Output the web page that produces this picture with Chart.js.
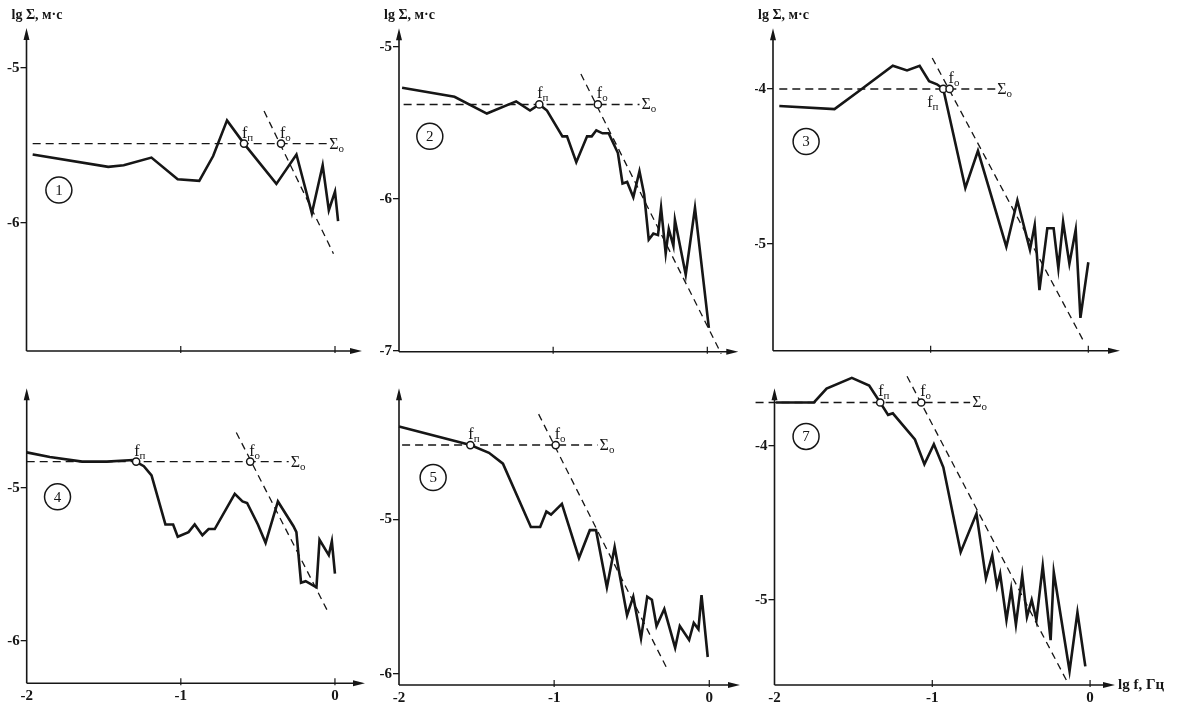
<!DOCTYPE html>
<html>
<head>
<meta charset="utf-8">
<script src="https://cdn.jsdelivr.net/npm/chart.js@4.4.1/dist/chart.umd.min.js"></script>
<style>
    body { margin: 0; background: #fff; width: 1178px; height: 704px; position: relative; overflow: hidden; }
    canvas { position: absolute; }
</style>
</head>
<body>
<canvas id="p1"></canvas>
<canvas id="p2"></canvas>
<canvas id="p3"></canvas>
<canvas id="p4"></canvas>
<canvas id="p5"></canvas>
<canvas id="p7"></canvas>
<script>
// lg f, Hz ticks (shared by all panels)
const xTicks = [-2, -1, 0];

// Panel 1
const p1Freq = [-1.96, -1.47, -1.37, -1.19, -1.02, -0.88, -0.79, -0.70, -0.59, -0.38, -0.25, -0.15, -0.08, -0.04, 0.00, 0.02];
const p1Amp = [-5.56, -5.64, -5.63, -5.58, -5.72, -5.73, -5.57, -5.34, -5.49, -5.75, -5.56, -5.94, -5.63, -5.92, -5.80, -5.99];
const p1YTicks = [-5, -6];
const p1Level = [-5.49, -1.96, -0.05];      // Σо, dashed from / to
const p1Knees = [-0.59, -0.35];             // fп, fо
const p1SlopeFreq = [-0.46, -0.01];
const p1SlopeAmp = [-5.28, -6.20];

// Panel 2
const p2Freq = [-1.98, -1.64, -1.43, -1.24, -1.15, -1.09, -1.04, -0.94, -0.91, -0.85, -0.78, -0.75, -0.72, -0.68, -0.64, -0.58, -0.55, -0.52, -0.48, -0.44, -0.41, -0.38, -0.35, -0.32, -0.30, -0.27, -0.25, -0.22, -0.21, -0.14, -0.08, 0.01];
const p2Amp = [-5.27, -5.33, -5.44, -5.36, -5.42, -5.38, -5.42, -5.59, -5.59, -5.76, -5.59, -5.59, -5.55, -5.57, -5.57, -5.70, -5.90, -5.89, -5.99, -5.82, -5.97, -6.27, -6.23, -6.24, -6.06, -6.36, -6.20, -6.31, -6.14, -6.50, -6.06, -6.85];
const p2YTicks = [-5, -6, -7];
const p2Level = [-5.38, -1.97, -0.44];
const p2Knees = [-1.09, -0.71];
const p2SlopeFreq = [-0.82, 0.09];
const p2SlopeAmp = [-5.18, -7.02];

// Panel 3
const p3Freq = [-1.96, -1.61, -1.45, -1.24, -1.15, -1.07, -1.01, -0.96, -0.92, -0.78, -0.70, -0.52, -0.45, -0.37, -0.34, -0.31, -0.26, -0.22, -0.19, -0.16, -0.12, -0.08, -0.05, 0.00];
const p3Amp = [-4.11, -4.13, -4.01, -3.85, -3.88, -3.85, -3.95, -3.97, -4.00, -4.64, -4.40, -5.02, -4.72, -5.04, -4.88, -5.30, -4.90, -4.90, -5.16, -4.86, -5.13, -4.91, -5.48, -5.12];
const p3YTicks = [-4, -5];
const p3Level = [-4.00, -1.96, -0.59];
const p3Knees = [-0.92, -0.88];
const p3SlopeFreq = [-0.99, -0.03];
const p3SlopeAmp = [-3.80, -5.63];

// Panel 4
const p4Freq = [-2.00, -1.85, -1.64, -1.48, -1.31, -1.24, -1.19, -1.10, -1.05, -1.02, -0.95, -0.91, -0.86, -0.82, -0.78, -0.65, -0.60, -0.57, -0.50, -0.45, -0.37, -0.27, -0.25, -0.22, -0.19, -0.12, -0.10, -0.04, -0.02, 0.00];
const p4Amp = [-4.77, -4.80, -4.83, -4.83, -4.82, -4.86, -4.92, -5.24, -5.24, -5.32, -5.29, -5.24, -5.31, -5.27, -5.27, -5.04, -5.09, -5.10, -5.24, -5.36, -5.09, -5.25, -5.29, -5.62, -5.61, -5.65, -5.34, -5.44, -5.35, -5.56];
const p4YTicks = [-5, -6];
const p4Level = [-4.83, -2.00, -0.30];
const p4Knees = [-1.29, -0.55];
const p4SlopeFreq = [-0.64, -0.04];
const p4SlopeAmp = [-4.64, -5.82];

// Panel 5
const p5Freq = [-2.00, -1.54, -1.42, -1.33, -1.15, -1.09, -1.05, -1.02, -0.95, -0.84, -0.77, -0.73, -0.66, -0.61, -0.53, -0.49, -0.44, -0.40, -0.37, -0.34, -0.29, -0.22, -0.19, -0.13, -0.10, -0.07, -0.05, -0.01];
const p5Amp = [-4.40, -4.52, -4.57, -4.64, -5.05, -5.05, -4.95, -4.97, -4.90, -5.25, -5.07, -5.07, -5.44, -5.18, -5.62, -5.50, -5.77, -5.50, -5.52, -5.69, -5.58, -5.83, -5.69, -5.78, -5.67, -5.71, -5.49, -5.89];
const p5YTicks = [-5, -6];
const p5Level = [-4.52, -1.98, -0.72];
const p5Knees = [-1.54, -0.99];
const p5SlopeFreq = [-1.10, -0.27];
const p5SlopeAmp = [-4.32, -5.97];

// Panel 7
const p7Freq = [-1.99, -1.75, -1.67, -1.51, -1.40, -1.33, -1.28, -1.25, -1.11, -1.05, -0.99, -0.93, -0.82, -0.72, -0.66, -0.62, -0.59, -0.57, -0.53, -0.50, -0.47, -0.43, -0.40, -0.37, -0.34, -0.30, -0.25, -0.23, -0.13, -0.08, -0.03];
const p7Amp = [-3.72, -3.72, -3.63, -3.56, -3.61, -3.72, -3.80, -3.79, -3.96, -4.12, -3.99, -4.14, -4.69, -4.44, -4.86, -4.71, -4.91, -4.83, -5.13, -4.93, -5.16, -4.84, -5.11, -5.00, -5.13, -4.78, -5.26, -4.82, -5.46, -5.08, -5.43];
const p7YTicks = [-4, -5];
const p7Level = [-3.72, -2.12, -0.76];
const p7Knees = [-1.33, -1.07];
const p7SlopeFreq = [-1.16, -0.15];
const p7SlopeAmp = [-3.55, -5.52];

const ink = '#161616';
const serif = '"Liberation Serif", "DejaVu Serif", serif';

// canvas box [left, top, w, h] and plot area [left, top, right, bottom] in page px
const panels = {
    p1: { num: '1', freq: p1Freq, amp: p1Amp, yTicks: p1YTicks, level: p1Level, knees: p1Knees, sf: p1SlopeFreq, sa: p1SlopeAmp,
          box: [0, 0, 380, 364], area: [26.5, 28, 362, 351], xMax: 0.175, yMin: -6.828, yMax: -4.744,
          tag: [-1.79, -5.79], bottom: false, yTitle: true },
    p2: { num: '2', freq: p2Freq, amp: p2Amp, yTicks: p2YTicks, level: p2Level, knees: p2Knees, sf: p2SlopeFreq, sa: p2SlopeAmp,
          box: [380, 0, 375, 364], area: [399, 28.3, 738.3, 351.7], xMax: 0.201, yMin: -7.007, yMax: -4.879,
          tag: [-1.80, -5.59], bottom: false, yTitle: true },
    p3: { num: '3', freq: p3Freq, amp: p3Amp, yTicks: p3YTicks, level: p3Level, knees: p3Knees, sf: p3SlopeFreq, sa: p3SlopeAmp,
          box: [755, 0, 423, 364], area: [773, 28.3, 1120, 350.7], xMax: 0.201, yMin: -5.692, yMax: -3.608,
          tag: [-1.79, -4.34], bottom: false, yTitle: true, fnBelow: true },
    p4: { num: '4', freq: p4Freq, amp: p4Amp, yTicks: p4YTicks, level: p4Level, knees: p4Knees, sf: p4SlopeFreq, sa: p4SlopeAmp,
          box: [0, 360, 380, 344], area: [26.7, 388.3, 365, 683.3], xMax: 0.195, yMin: -6.276, yMax: -4.352,
          tag: [-1.80, -5.06], bottom: true },
    p5: { num: '5', freq: p5Freq, amp: p5Amp, yTicks: p5YTicks, level: p5Level, knees: p5Knees, sf: p5SlopeFreq, sa: p5SlopeAmp,
          box: [380, 360, 375, 344], area: [399, 388.3, 740, 685], xMax: 0.198, yMin: -6.071, yMax: -4.153,
          tag: [-1.78, -4.73], bottom: true },
    p7: { num: '7', freq: p7Freq, amp: p7Amp, yTicks: p7YTicks, level: p7Level, knees: p7Knees, sf: p7SlopeFreq, sa: p7SlopeAmp,
          box: [755, 360, 423, 344], area: [774.5, 388.3, 1115, 685], xMax: 0.158, yMin: -5.551, yMax: -3.628,
          tag: [-1.80, -3.94], bottom: true, xTitle: true }
};

function subText(ctx, main, sub, x, y) {
    ctx.textAlign = 'left';
    ctx.textBaseline = 'alphabetic';
    ctx.font = '16px ' + serif;
    ctx.fillText(main, x, y);
    const w = ctx.measureText(main).width;
    ctx.font = '11px ' + serif;
    ctx.fillText(sub, x + w, y + 3);
}

// axes with arrows, inner x ticks and the annotations
const sketch = {
    id: 'sketch',
    afterDatasetsDraw(chart) {
        const p = panels[chart.canvas.id];
        const { ctx, chartArea: a, scales: { x, y } } = chart;
        ctx.save();
        ctx.strokeStyle = ink;
        ctx.fillStyle = ink;
        ctx.lineWidth = 1.6;

        ctx.beginPath();
        ctx.moveTo(a.left, a.bottom);
        ctx.lineTo(a.left, a.top + 8);
        ctx.moveTo(a.left, a.bottom);
        ctx.lineTo(a.right - 8, a.bottom);
        ctx.stroke();
        ctx.beginPath();
        ctx.moveTo(a.left, a.top);
        ctx.lineTo(a.left - 3, a.top + 12);
        ctx.lineTo(a.left + 3, a.top + 12);
        ctx.closePath();
        ctx.moveTo(a.right, a.bottom);
        ctx.lineTo(a.right - 12, a.bottom - 3);
        ctx.lineTo(a.right - 12, a.bottom + 3);
        ctx.closePath();
        ctx.fill();

        ctx.lineWidth = 1.2;
        [-1, 0].forEach(v => {
            const px = x.getPixelForValue(v);
            ctx.beginPath();
            ctx.moveTo(px, a.bottom - 5);
            ctx.lineTo(px, a.bottom + 2);
            ctx.stroke();
        });

        // Σо label
        const ly = y.getPixelForValue(p.level[0]);
        subText(ctx, 'Σ', 'о', x.getPixelForValue(p.level[2]) + 2, ly + 5);

        // fп, fо labels
        const fnX = x.getPixelForValue(p.knees[0]);
        const foX = x.getPixelForValue(p.knees[1]);
        if (p.fnBelow) subText(ctx, 'f', 'п', fnX - 16, ly + 18);
        else subText(ctx, 'f', 'п', fnX - 2, ly - 6);
        subText(ctx, 'f', 'о', foX - 1, ly - 6);

        // panel number in a circle
        const tx = x.getPixelForValue(p.tag[0]);
        const ty = y.getPixelForValue(p.tag[1]);
        ctx.lineWidth = 1.5;
        ctx.beginPath();
        ctx.arc(tx, ty, 13, 0, Math.PI * 2);
        ctx.stroke();
        ctx.font = '15px ' + serif;
        ctx.textAlign = 'center';
        ctx.textBaseline = 'middle';
        ctx.fillText(p.num, tx, ty + 1);

        if (p.yTitle) {
            ctx.font = 'bold 14px ' + serif;
            ctx.textAlign = 'left';
            ctx.fillText('lg Σ, м·с', a.left - 15, 15);
        }
        if (p.xTitle) {
            ctx.font = 'bold 15px ' + serif;
            ctx.textAlign = 'left';
            ctx.fillText('lg f, Гц', a.right + 3, a.bottom);
        }
        ctx.restore();
    }
};

function makePanel(id) {
    const p = panels[id];
    const [bl, bt, bw, bh] = p.box;
    const [al, at, ar, ab] = p.area;
    const canvas = document.getElementById(id);
    canvas.width = bw;
    canvas.height = bh;
    canvas.style.left = bl + 'px';
    canvas.style.top = bt + 'px';

    const lineStyle = { showLine: true, pointRadius: 0, borderColor: ink, clip: false };

    new Chart(canvas.getContext('2d'), {
        type: 'scatter',
        data: {
            datasets: [
                {
                    data: p.knees.map(f => ({ x: f, y: p.level[0] })),
                    showLine: false, pointRadius: 3.6, pointBackgroundColor: '#fff',
                    pointBorderColor: ink, pointBorderWidth: 1.5, clip: false
                },
                Object.assign({
                    data: p.freq.map((f, i) => ({ x: f, y: p.amp[i] })),
                    borderWidth: 2.6
                }, lineStyle),
                Object.assign({
                    data: [{ x: p.level[1], y: p.level[0] }, { x: p.level[2], y: p.level[0] }],
                    borderWidth: 1.4, borderDash: [8, 5]
                }, lineStyle),
                Object.assign({
                    data: p.sf.map((f, i) => ({ x: f, y: p.sa[i] })),
                    borderWidth: 1.3, borderDash: [7, 5]
                }, lineStyle)
            ]
        },
        options: {
            responsive: false,
            animation: false,
            events: [],
            layout: { padding: { left: 0, bottom: 0, top: at - bt, right: bl + bw - ar } },
            plugins: { legend: { display: false }, tooltip: { enabled: false } },
            scales: {
                x: {
                    type: 'linear', min: -2, max: p.xMax,
                    afterBuildTicks: s => { s.ticks = xTicks.map(v => ({ value: v })); },
                    afterFit: s => { s.height = bt + bh - ab; },
                    grid: { display: false, drawTicks: false },
                    border: { display: false },
                    ticks: { display: p.bottom, padding: 4, color: ink, maxRotation: 0,
                             font: { family: serif, size: 15, weight: 'bold' } }
                },
                y: {
                    min: p.yMin, max: p.yMax,
                    afterBuildTicks: s => { s.ticks = p.yTicks.map(v => ({ value: v })); },
                    afterFit: s => { s.width = al - bl; },
                    grid: { display: true, drawOnChartArea: false, drawTicks: true, tickLength: 6, color: ink, lineWidth: 1.3 },
                    border: { display: false },
                    ticks: { padding: 1, color: ink, font: { family: serif, size: 15, weight: 'bold' } }
                }
            }
        },
        plugins: [sketch]
    });
}

Object.keys(panels).forEach(makePanel);
</script>
</body>
</html>
